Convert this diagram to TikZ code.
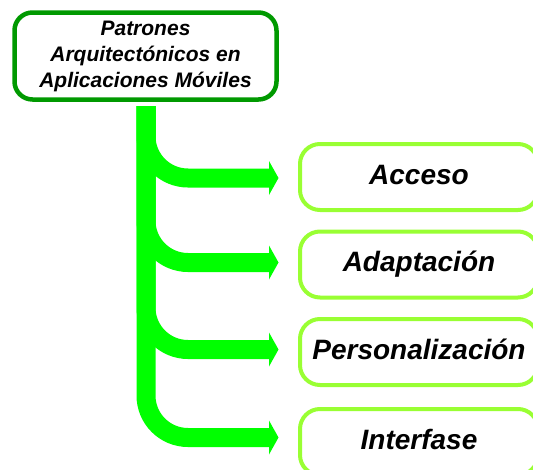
\documentclass[tikz,border=0pt]{standalone}
\usepackage{fontspec}
\setmainfont{Liberation Sans}
\usetikzlibrary{calc}
\definecolor{darkbox}{RGB}{0,153,0}
\definecolor{lightbox}{RGB}{153,255,51}
\definecolor{flow}{RGB}{0,255,0}
\begin{document}
\begin{tikzpicture}[x=1pt,y=-1pt,
  topbox/.style={draw=darkbox, line width=4.5pt, rounded corners=18pt, fill=white,
    minimum width=262pt, minimum height=87pt, align=center,
    font=\fontsize{21}{26}\selectfont\bfseries\itshape},
  itembox/.style={draw=lightbox, line width=4pt, rounded corners=20pt, fill=white,
    minimum width=238pt, minimum height=66pt, text height=20pt, text depth=6pt,
    font=\fontsize{28}{32}\selectfont\bfseries\itshape},
  branch/.style={draw=flow, line width=19pt, rounded corners=42pt},
  tip/.style={fill=flow}]
\useasboundingbox (0,0) rectangle (533,469);
\node[topbox] (top) at (145.5,56) {Patrones\\Arquitectónicos en\\Aplicaciones Móviles};
\node[itembox] (b1) at (419,177) {Acceso};
\node[itembox] (b2) at (419,264.5) {Adaptación};
\node[itembox] (b3) at (419,352) {Personalización};
\node[itembox] (b4) at (419,442) {Interfase};
\coordinate (s) at (146,106);
\foreach \i/\y in {1/178,2/262.5,3/349.5,4/437.5}{
  \coordinate (e\i) at (270,\y);
  \draw[branch] (s) |- (e\i);
  \fill[tip] ($(e\i)+(-1,-17)$) -- ($(e\i)+(8.5,0)$) -- ($(e\i)+(-1,17)$) -- cycle;
}
\end{tikzpicture}
\end{document}
